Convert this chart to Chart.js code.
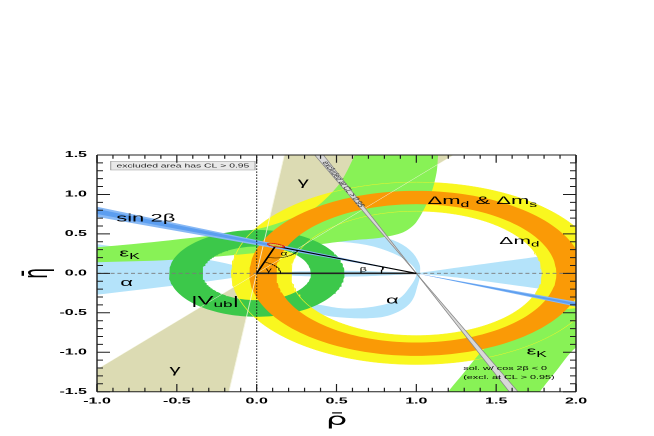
<!DOCTYPE html>
<html><head><meta charset="utf-8">
<script src="https://cdn.jsdelivr.net/npm/chart.js@4/dist/chart.umd.min.js"></script>
<style>
html,body{margin:0;padding:0;background:#fff;overflow:hidden;width:654px;height:436px}
#wrap{position:absolute;left:0;top:0;width:327px;height:436px;transform:scaleX(2);transform-origin:0 0}
</style></head><body>
<div id="wrap"><canvas id="c" width="327" height="436"></canvas></div>
<script>
// ---------------- data ----------------
const xTickValues = [-1.0, -0.5, 0.0, 0.5, 1.0, 1.5, 2.0];
const xTickLabels = ['-1.0', '-0.5', '0.0', '0.5', '1.0', '1.5', '2.0'];
const yTickValues = [-1.5, -1.0, -0.5, 0.0, 0.5, 1.0, 1.5];
const yTickLabels = ['-1.5', '-1.0', '-0.5', '0.0', '0.5', '1.0', '1.5'];

// fitted apex (rho, eta) and its CL ellipse [rho, eta, semi-axis rho, semi-axis eta, tilt deg]
const apex = [0.117, 0.345];
const apexEllipse = [0.121, 0.355, 0.056, 0.018, -21];

// rings: [centre rho, centre eta, inner radius, outer radius]
const vubRing = [0.0, 0.0, 0.34, 0.55];
const dmdRing = [1.0, 0.0, 0.788, 1.156];
const dmsRing = [1.0, 0.0, 0.877, 1.046];

// wedges (degrees)
const gammaDeg = [50.6, 83.4];          // apex at (0,0)
const sin2bWideDeg = [19.7, 22.9];      // beta, apex at (1,0)
const sin2bCoreDeg = [20.6, 22.2];
const cos2bNegDeg = [67.0, 68.8];       // pi/2 - beta solution

// epsilon_K, upper region (boundary points)
const epsUpRho = [-1.1, -1.0, -0.54, 0.0, 0.25, 0.376, 0.52, 0.615, 0.64, 1.15, 1.137, 1.127, 1.09, 1.0, 0.917, 0.77, 0.6, 0.4, 0.0, -0.54, -1.0, -1.1];
const epsUpEta = [0.315, 0.33, 0.42, 0.56, 0.72, 0.845, 1.14, 1.5, 1.62, 1.62, 1.5, 1.28, 1.0, 0.65, 0.52, 0.45, 0.42, 0.37, 0.26, 0.17, 0.14, 0.135];
// epsilon_K, lower-right region
const epsLoRho = [1.17, 1.2, 1.294, 1.4, 1.5, 1.6, 1.774, 2.0, 2.1, 2.1, 1.983, 1.879, 1.774, 1.74];
const epsLoEta = [-1.6, -1.5, -1.27, -1.01, -0.82, -0.66, -0.5, -0.44, -0.42, -0.8, -0.97, -1.23, -1.5, -1.6];

// alpha regions
const alphaLeftRho = [0.0, -0.1, -0.3, -0.54, -1.0, -1.1, -1.1, -1.0, -0.54, -0.3, -0.1, 0.0];
const alphaLeftEta = [0.0, 0.08, 0.17, 0.24, 0.37, 0.40, -0.29, -0.27, -0.16, -0.10, -0.04, 0.0];
const alphaRightRho = [1.0, 1.3, 1.76, 2.1, 2.1, 1.76, 1.3, 1.0];
const alphaRightEta = [0.0, 0.085, 0.21, 0.30, -0.27, -0.19, -0.063, 0.0];
const alphaLensRho = [0.0, 0.25, 0.5, 0.75, 1.0, 0.75, 0.5, 0.25];
const alphaLensEta = [0.0, -0.032, -0.042, -0.032, 0.0, 0.025, 0.033, 0.025];
const alphaArcRho = [0.25, 0.40, 0.48, 0.69, 0.856, 0.96, 1.018, 1.023, 1.012, 0.96, 0.835, 0.689, 0.48, 0.376, 0.25,
                     0.25, 0.396, 0.542, 0.73, 0.877, 0.96, 1.0, 0.96, 0.856, 0.689, 0.48, 0.25];
const alphaArcEta = [0.45, 0.50, 0.51, 0.50, 0.42, 0.295, 0.127, 0.0, -0.127, -0.38, -0.53, -0.57, -0.55, -0.507, -0.45,
                     -0.36, -0.40, -0.444, -0.423, -0.338, -0.17, 0.0, 0.127, 0.253, 0.359, 0.40, 0.37];

// ---------------- shape helpers ----------------
const D2R = Math.PI / 180, FAR = 6;
const zip = (xs, ys) => xs.map((v, i) => ({x: v, y: ys[i]}));
function ring(r) {
  const [cx, cy, ri, ro] = r, pts = [], N = 180;
  for (let i = 0; i <= N; i++) { const t = 2 * Math.PI * i / N; pts.push({x: cx + ro * Math.cos(t), y: cy + ro * Math.sin(t)}); }
  for (let i = N; i >= 0; i--) { const t = 2 * Math.PI * i / N; pts.push({x: cx + ri * Math.cos(t), y: cy + ri * Math.sin(t)}); }
  return pts;
}
function circle(cx, cy, r) {
  const pts = [];
  for (let i = 0; i <= 180; i++) { const t = 2 * Math.PI * i / 180; pts.push({x: cx + r * Math.cos(t), y: cy + r * Math.sin(t)}); }
  return pts;
}
function originWedge(deg) {   // double wedge through (0,0)
  const p = a => ({x: FAR * Math.cos(a * D2R), y: FAR * Math.sin(a * D2R)});
  const o = {x: 0, y: 0};
  return [o, p(deg[0]), p(deg[1]), o, p(deg[0] + 180), p(deg[1] + 180), o];
}
function betaWedge(deg) {     // double wedge through (1,0), angle measured from the -rho direction
  const p = a => ({x: 1 - FAR * Math.cos(a * D2R), y: FAR * Math.sin(a * D2R)});
  const q = a => ({x: 1 + FAR * Math.cos(a * D2R), y: -FAR * Math.sin(a * D2R)});
  const o = {x: 1, y: 0};
  return [o, p(deg[0]), p(deg[1]), o, q(deg[0]), q(deg[1]), o];
}
function arc(cx, cy, r, a0, a1) {
  const pts = [];
  for (let i = 0; i <= 40; i++) { const t = (a0 + (a1 - a0) * i / 40) * D2R; pts.push({x: cx + r * Math.cos(t), y: cy + r * Math.sin(t)}); }
  return pts;
}
function ellipse(e) {
  const [cx, cy, a, b, tilt] = e, c = Math.cos(tilt * D2R), s = Math.sin(tilt * D2R), pts = [];
  for (let i = 0; i <= 72; i++) { const t = 2 * Math.PI * i / 72, u = a * Math.cos(t), v = b * Math.sin(t); pts.push({x: cx + u * c - v * s, y: cy + u * s + v * c}); }
  return pts;
}

// ---------------- datasets (bottom -> top) ----------------
const ds = [];
function area(label, pts, color, extra) {
  ds.push(Object.assign({label, data: pts, backgroundColor: color, borderColor: color, borderWidth: 0, fill: 'shape', pointRadius: 0, tension: 0}, extra || {}));
}
function line(label, pts, color, width, dash, extra) {
  ds.push(Object.assign({label, data: pts, borderColor: color, backgroundColor: color, borderWidth: width, borderDash: dash || [], fill: false, pointRadius: 0, tension: 0}, extra || {}));
}
const cTan = '#dcdbb3', cBlue = '#b4e3fa', cYel = '#f9f71f', cLg = '#88f256', cGrn = '#3cc84a', cOra = '#fa9a06';

area('gamma', originWedge(gammaDeg), cTan);
area('alpha left', zip(alphaLeftRho, alphaLeftEta), cBlue, {tension: 0.3});
area('alpha right', zip(alphaRightRho, alphaRightEta), cBlue, {tension: 0.2});
area('alpha lens', zip(alphaLensRho, alphaLensEta), cBlue, {tension: 0.3});
area('alpha arc', zip(alphaArcRho, alphaArcEta), cBlue, {tension: 0.35});
area('dmd', ring(dmdRing), cYel);
area('epsK up', zip(epsUpRho, epsUpEta), cLg, {tension: 0.3});
area('epsK low', zip(epsLoRho, epsLoEta), cLg, {tension: 0.3});
area('Vub', ring(vubRing), cGrn);
area('dms', ring(dmsRing), cOra);
line('dmd edge out', circle(dmdRing[0], dmdRing[1], dmdRing[3]), 'rgba(250,245,40,0.9)', 0.5);
line('dmd edge in', circle(dmdRing[0], dmdRing[1], dmdRing[2]), 'rgba(250,245,40,0.9)', 0.5);
line('gamma edge 1', [{x: -FAR * Math.cos(gammaDeg[0] * D2R), y: -FAR * Math.sin(gammaDeg[0] * D2R)}, {x: FAR * Math.cos(gammaDeg[0] * D2R), y: FAR * Math.sin(gammaDeg[0] * D2R)}], 'rgba(245,245,225,0.9)', 0.45);
line('gamma edge 2', [{x: -FAR * Math.cos(gammaDeg[1] * D2R), y: -FAR * Math.sin(gammaDeg[1] * D2R)}, {x: FAR * Math.cos(gammaDeg[1] * D2R), y: FAR * Math.sin(gammaDeg[1] * D2R)}], 'rgba(245,245,225,0.9)', 0.45);
area('sin2b 95', betaWedge(sin2bWideDeg), '#88b9f5');
area('sin2b 68', betaWedge(sin2bCoreDeg), '#5c9ef0');
area('cos2b<0', betaWedge(cos2bNegDeg), '#d8d8d8', {borderColor: '#8a8a8a', borderWidth: 0.5});
line('eta=0', [{x: -1, y: 0}, {x: 2, y: 0}], '#7a7a7a', 0.9, [2, 1.4]);
line('rho=0', [{x: 0, y: -1.5}, {x: 0, y: 1.5}], '#111', 0.6, [1.2, 1.8]);
line('base', [{x: 0, y: 0}, {x: 1, y: 0}], '#222', 1.6);
line('triangle', [{x: 0, y: 0}, {x: apex[0], y: apex[1]}, {x: 1, y: 0}], '#000', 1.0);
const angApex0 = Math.atan2(-apex[1], -apex[0]) / D2R, angApex1 = Math.atan2(-apex[1], 1 - apex[0]) / D2R;
line('alpha angle', arc(apex[0], apex[1], 0.15, angApex0 < 0 ? angApex0 + 360 : angApex0, angApex1 + 360), '#000', 0.5);
line('gamma angle', arc(0, 0, 0.15, 0, Math.atan2(apex[1], apex[0]) / D2R), '#000', 0.5);
line('beta angle', arc(1, 0, 0.22, 180 - Math.atan2(apex[1], 1 - apex[0]) / D2R, 180), '#000', 0.5);
area('apex CL', ellipse(apexEllipse), 'rgba(255,215,0,0.7)', {borderColor: '#e0201a', borderWidth: 0.7});
ds.forEach((d, i) => { d.order = ds.length - i; });

// ---------------- text & frame plugins ----------------
const FAM = '"Liberation Sans", Arial, sans-serif';
const plotLabels = [
  {parts: [['sin 2β']], rho: -0.88, eta: 0.695, size: 11},
  {parts: [['ε'], ['K', 'sub']], rho: -0.86, eta: 0.255, size: 11},
  {parts: [['α']], rho: -0.815, eta: -0.12, size: 11, align: 'center'},
  {parts: [['|V'], ['ub', 'sub'], ['|']], rho: -0.41, eta: -0.35, size: 12},
  {parts: [['γ']], rho: 0.292, eta: 1.15, size: 11, align: 'center'},
  {parts: [['γ']], rho: -0.512, eta: -1.225, size: 11, align: 'center'},
  {parts: [['Δm'], ['d', 'sub'], [' & Δm'], ['s', 'sub']], rho: 1.07, eta: 0.915, size: 11},
  {parts: [['Δm'], ['d', 'sub']], rho: 1.52, eta: 0.41, size: 10.5},
  {parts: [['α']], rho: 0.85, eta: -0.345, size: 11, align: 'center'},
  {parts: [['ε'], ['K', 'sub']], rho: 1.69, eta: -0.99, size: 11},
  {parts: [['α']], rho: 0.171, eta: 0.245, size: 6, align: 'center'},
  {parts: [['β']], rho: 0.668, eta: 0.046, size: 6.5, align: 'center'},
  {parts: [['γ']], rho: 0.076, eta: 0.04, size: 6, align: 'center'},
  {parts: [['sol. w/ cos 2β < 0']], rho: 1.294, eta: -1.205, size: 5.4},
  {parts: [['(excl. at CL > 0.95)']], rho: 1.294, eta: -1.32, size: 5.4},
];
function drawRich(ctx, parts, px, py, size, align) {
  let w = 0;
  const m = parts.map(p => {
    const sub = p[1] === 'sub', s = sub ? size * 0.72 : size;
    ctx.font = s + 'px ' + FAM;
    const wd = ctx.measureText(p[0]).width; w += wd;
    return {t: p[0], s, wd, sub};
  });
  let cx = align === 'center' ? px - w / 2 : px;
  ctx.textBaseline = 'middle'; ctx.textAlign = 'left';
  for (const q of m) { ctx.font = q.s + 'px ' + FAM; ctx.fillText(q.t, cx, py + (q.sub ? size * 0.32 : 0)); cx += q.wd; }
}
const labelsPlugin = {
  id: 'labels',
  afterDatasetsDraw(chart) {
    const {ctx, chartArea: a, scales: {x, y}} = chart;
    ctx.save();
    ctx.beginPath(); ctx.rect(a.left, a.top, a.width, a.height); ctx.clip();
    ctx.fillStyle = '#000';
    for (const L of plotLabels) drawRich(ctx, L.parts, x.getPixelForValue(L.rho), y.getPixelForValue(L.eta), L.size, L.align);
    // legend box
    const bx0 = x.getPixelForValue(-0.914), bx1 = x.getPixelForValue(-0.01), by0 = y.getPixelForValue(1.42), by1 = y.getPixelForValue(1.31);
    ctx.fillStyle = '#e8e8e8'; ctx.fillRect(bx0, by0, bx1 - bx0, by1 - by0);
    ctx.strokeStyle = '#9a9a9a'; ctx.lineWidth = 0.5; ctx.strokeRect(bx0, by0, bx1 - bx0, by1 - by0);
    ctx.fillStyle = '#222'; ctx.font = '5.2px ' + FAM; ctx.textAlign = 'center'; ctx.textBaseline = 'middle';
    ctx.fillText('excluded area has CL > 0.95', (bx0 + bx1) / 2, (by0 + by1) / 2 + 0.3);
    // rotated text along the cos2b<0 band
    const mid = (cos2bNegDeg[0] + cos2bNegDeg[1]) / 2 * D2R;
    const e0 = 1.13, r0 = 1 - e0 / Math.tan(mid), e1 = 0.5, r1 = 1 - e1 / Math.tan(mid);
    const p0x = x.getPixelForValue(r0), p0y = y.getPixelForValue(e0), p1x = x.getPixelForValue(r1), p1y = y.getPixelForValue(e1);
    ctx.translate(p0x, p0y); ctx.rotate(Math.atan2(p1y - p0y, p1x - p0x));
    ctx.font = '5px ' + FAM; ctx.fillStyle = '#333';
    ctx.fillText('excluded at CL > 0.95', 0, 0);
    ctx.restore();
  }
};
const frameTicks = {
  id: 'frameTicks',
  afterDatasetsDraw(chart) {
    const {ctx, chartArea: a, scales: {x, y}} = chart;
    ctx.save();
    ctx.strokeStyle = '#1e1e1e';
    ctx.lineWidth = 0.6; ctx.beginPath();
    for (let i = 0; i <= 30; i++) {
      const px = x.getPixelForValue(-1 + i * 0.1), major = i % 5 === 0;
      ctx.moveTo(px, a.bottom); ctx.lineTo(px, a.bottom - (major ? 7.7 : 4));
      ctx.moveTo(px, a.top); ctx.lineTo(px, a.top + (major ? 7.7 : 3.7));
    }
    ctx.stroke();
    ctx.lineWidth = 1; ctx.beginPath();
    for (let i = 0; i <= 30; i++) {
      const py = y.getPixelForValue(-1.5 + i * 0.1), major = i % 5 === 0, l = major ? 6.5 : 3;
      ctx.moveTo(a.left, py); ctx.lineTo(a.left + l, py);
      ctx.moveTo(a.right, py); ctx.lineTo(a.right - l, py);
    }
    ctx.stroke();
    ctx.lineWidth = 1; ctx.beginPath();
    ctx.moveTo(a.left, a.top); ctx.lineTo(a.right, a.top); ctx.moveTo(a.left, a.bottom); ctx.lineTo(a.right, a.bottom); ctx.stroke();
    ctx.lineWidth = 0.7; ctx.beginPath();
    ctx.moveTo(a.left, a.top); ctx.lineTo(a.left, a.bottom); ctx.moveTo(a.right, a.top); ctx.lineTo(a.right, a.bottom); ctx.stroke();
    ctx.restore();
  }
};

const tickFont = {family: 'Liberation Sans', size: 8, weight: 'bold'};
const chart = new Chart(document.getElementById('c'), {
  type: 'line',
  data: {datasets: ds},
  options: {
    responsive: false, animation: false, devicePixelRatio: 2, events: [],
    layout: {padding: {top: 155, right: 39, left: 0, bottom: 0}},
    elements: {line: {capBezierPoints: false}, point: {radius: 0}},
    plugins: {legend: {display: false}, tooltip: {enabled: false}},
    scales: {
      x: {
        type: 'linear', min: -1, max: 2,
        afterBuildTicks: s => { s.ticks = xTickValues.map(v => ({value: v})); },
        afterFit: s => { s.height = 44.3; },
        ticks: {callback: (v, i) => xTickLabels[i], autoSkip: false, maxRotation: 0, minRotation: 0, padding: 5, color: '#000', font: tickFont},
        grid: {display: false, drawTicks: false}, border: {display: false},
        title: {display: true, text: 'ρ\u0304', color: '#000', font: {family: 'DejaVu Sans', size: 17}, padding: {top: 0, bottom: 5}}
      },
      y: {
        type: 'linear', min: -1.5, max: 1.5,
        afterBuildTicks: s => { s.ticks = yTickValues.map(v => ({value: v})); },
        afterFit: s => { s.width = 48.5; },
        ticks: {callback: (v, i) => yTickLabels[i], autoSkip: false, padding: 5, color: '#000', font: tickFont},
        grid: {display: false, drawTicks: false}, border: {display: false},
        title: {display: true, text: 'η\u0304', color: '#000', font: {family: 'DejaVu Sans', size: 17}, padding: {top: 9, bottom: 0}}
      }
    }
  },
  plugins: [labelsPlugin, frameTicks]
});
</script>
</body></html>
